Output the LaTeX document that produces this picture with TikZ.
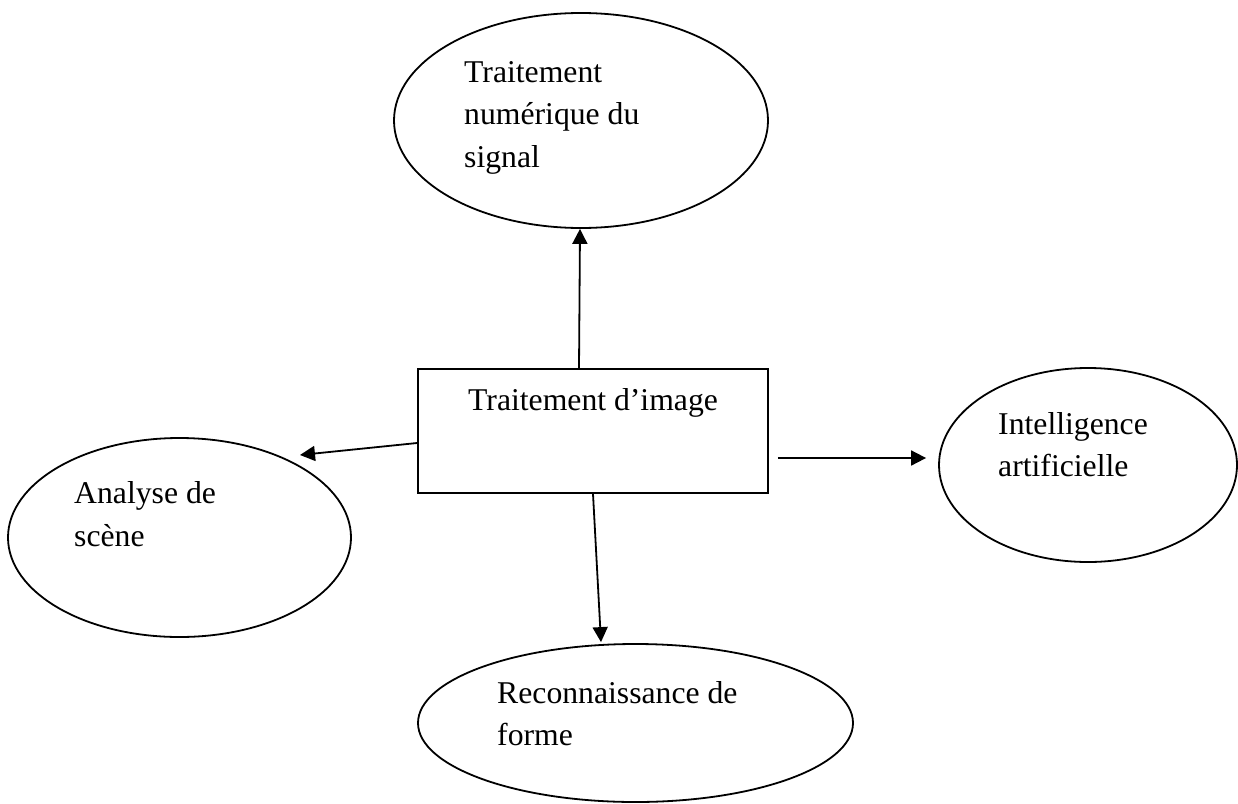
\documentclass[tikz,border=0pt]{standalone}
\usepackage{fontspec}
\setmainfont{Liberation Serif}
\usetikzlibrary{shapes.geometric,arrows.meta}
\begin{document}
\begin{tikzpicture}[x=1pt,y=-1pt,
  shapeline/.style={draw=black,line width=1.8pt},
  oval/.style={shapeline,ellipse,inner sep=0pt},
  boxshape/.style={shapeline,rectangle,inner sep=0pt},
  lbl/.style={anchor=base west,inner sep=0pt,align=left,font=\fontsize{31.7}{42.5}\selectfont},
  conn/.style={line width=1.8pt,-{Triangle[length=15pt,width=15pt]}}]
\useasboundingbox (0,0) rectangle (1238,803);
% shapes
\node[oval,minimum width=374pt,minimum height=215pt] (tns) at (581,120.5) {};
\node[boxshape,minimum width=350pt,minimum height=124pt] (img) at (593,431) {};
\node[oval,minimum width=298pt,minimum height=194pt] (ai) at (1088,465) {};
\node[oval,minimum width=343pt,minimum height=199pt] (ana) at (179.5,537.5) {};
\node[oval,minimum width=435pt,minimum height=158pt] (rf) at (635.5,723) {};
% labels (anchored at the baseline of the last line)
\node[lbl] (tnsT) at (464,167) {Traitement\\numérique du\\signal};
\node[lbl] (imgT) at (468,410) {Traitement d’image};
\node[lbl] (aiT) at (998,476.5) {Intelligence\\artificielle};
\node[lbl] (anaT) at (74,546) {Analyse de\\scène};
\node[lbl] (rfT) at (497,745.5) {Reconnaissance de\\forme};
% connectors
\draw[conn] ([xshift=-14pt]img.north) -- ([xshift=-1pt]tns.south);
\draw[conn] ([yshift=-12pt]img.west) -- ([shift={(120.5pt,82.5pt)}]ana.center);
\draw[conn] ([shift={(9pt,-27pt)}]img.east) -- ([shift={(-12pt,7pt)}]ai.west);
\draw[conn] (img.south) -- ([shift={(-34.5pt,1pt)}]rf.north);
\end{tikzpicture}
\end{document}
